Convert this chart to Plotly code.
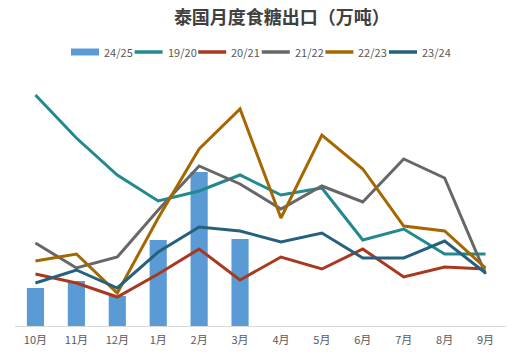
import plotly.graph_objects as go

months = ["10月", "11月", "12月", "1月", "2月", "3月", "4月", "5月", "6月", "7月", "8月", "9月"]
s2425 = [19, 22.5, 15, 43, 77, 43.5]
s1920 = [115.5, 94, 75.5, 62.5, 67.5, 75.5, 65.5, 69, 43, 48.5, 36, 36]
s2021 = [26, 21.5, 14.5, 26, 38.5, 23, 34.5, 28.5, 38.5, 24.5, 29.5, 28.5]
s2122 = [41.5, 29, 34.5, 58, 80, 71, 58.5, 70, 62, 83.5, 74, 26]
s2223 = [32.5, 36, 16.5, 54, 88.5, 108.5, 54, 95.5, 78.5, 50, 47.5, 29]
s2324 = [21.5, 28, 19, 37, 49.5, 47.5, 42, 46.5, 34, 34, 42.5, 26.5]

W, H = 522, 359
ML, MR, MT, MB = 15, 16, 70, 33
PW, PH = W - ML - MR, H - MT - MB

bar_color = "#5B9BD5"
fig = go.Figure()
fig.add_trace(go.Bar(x=months[:len(s2425)], y=s2425, name="24/25",
                     marker=dict(color=bar_color, line=dict(width=0)), width=0.42))
lines = [("19/20", s1920, "#23898F"), ("20/21", s2021, "#A8381E"),
         ("21/22", s2122, "#676767"), ("22/23", s2223, "#A56800"),
         ("23/24", s2324, "#25617E")]
for name, vals, col in lines:
    fig.add_trace(go.Scatter(x=months, y=vals, name=name, mode="lines",
                             line=dict(color=col, width=3)))

# legend row (drawn in paper space, compact like the reference)
legend_items = [("24/25", bar_color, 7)] + [(n, c, 3.5) for n, _, c in lines]
def px_to_paper_x(px):
    return (px - ML) / PW
leg_y = 1 + (MT - 52) / PH
shapes, annots = [], []
for i, (name, col, thick) in enumerate(legend_items):
    x0 = 71 + i * 63.6
    x1 = x0 + 28
    shapes.append(dict(type="line", xref="paper", yref="paper",
                       x0=px_to_paper_x(x0), x1=px_to_paper_x(x1), y0=leg_y, y1=leg_y,
                       line=dict(color=col, width=thick)))
    annots.append(dict(xref="paper", yref="paper", x=px_to_paper_x(x1 + 3), y=leg_y,
                       xanchor="left", yanchor="middle", text=name, showarrow=False,
                       font=dict(size=11, color="#595959")))

fig.update_layout(
    width=W, height=H,
    margin=dict(l=ML, r=MR, t=MT, b=MB),
    paper_bgcolor="white", plot_bgcolor="white",
    font=dict(family="Noto Sans CJK SC, sans-serif", color="#595959", size=11),
    title=dict(text="<b>泰国月度食糖出口（万吨）</b>", x=0.54, xanchor="center",
               y=0.95, yanchor="middle",
               font=dict(size=18, color="#404040")),
    showlegend=False,
    shapes=shapes, annotations=annots,
    xaxis=dict(type="category", categoryorder="array", categoryarray=months,
               range=[-0.5, 11.5], showgrid=False, showline=True, linecolor="#D9D9D9",
               linewidth=1, ticks="", ticklabelstandoff=4,
               tickfont=dict(size=11, color="#595959")),
    yaxis=dict(range=[0, 128], visible=False, showgrid=False, zeroline=False),
)

fig.write_html("out.html", config={"displayModeBar": False},
               post_script="document.body.style.margin='0';")
